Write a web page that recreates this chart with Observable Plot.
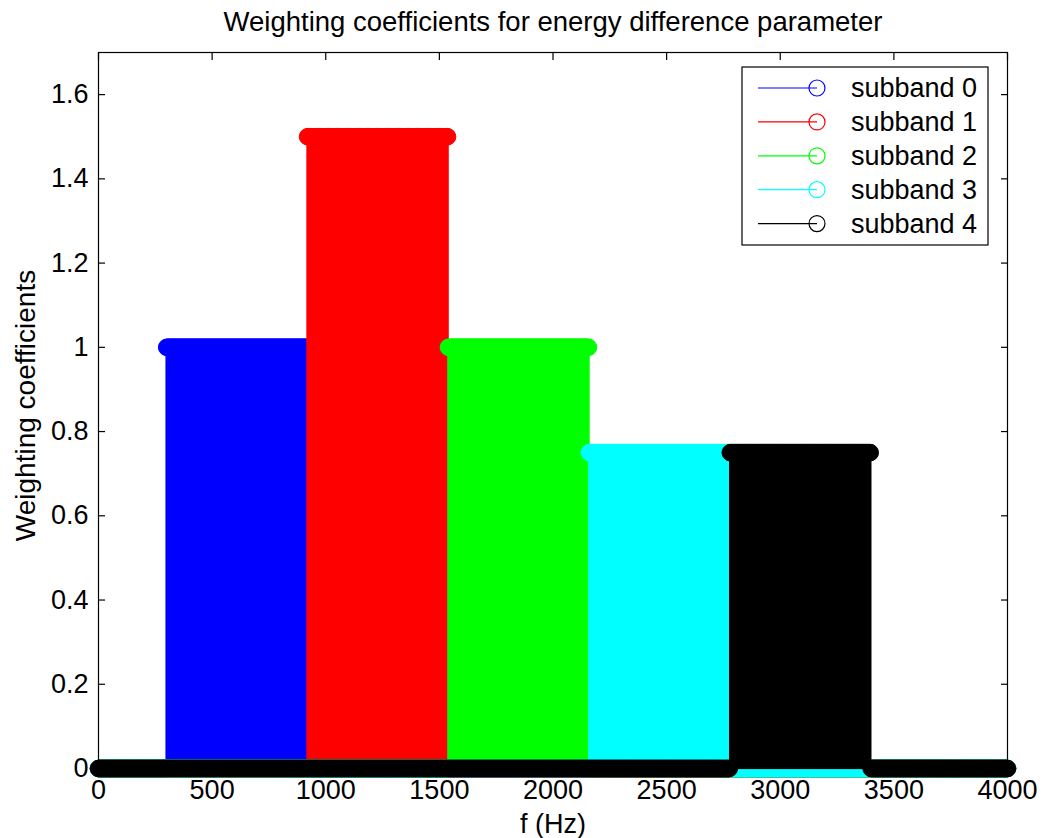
<!DOCTYPE html>
<html>
<head>
<meta charset="utf-8">
<script src="https://cdn.jsdelivr.net/npm/d3@7"></script>
<script src="https://cdn.jsdelivr.net/npm/@observablehq/plot@0.6"></script>
<style>
  html, body { margin: 0; padding: 0; background: #fff; }
  #chart { width: 1044px; height: 838px; }
</style>
</head>
<body>
<div id="chart"></div>
<script>
// ---- data ----
const seriesNames = ["subband 0", "subband 1", "subband 2", "subband 3", "subband 4"];
const seriesColors = ["#0000ff", "#ff0000", "#00ff00", "#00ffff", "#000000"];
const bandStart = [300, 920, 1540, 2160, 2780];   // Hz
const bandEnd   = [920, 1540, 2160, 2780, 3400];  // Hz
const weights   = [1, 1.5, 1, 0.75, 0.75];
const freqMax = 4000;
const freqStep = 4;   // stem spacing (Hz)
const xTicks = [0, 500, 1000, 1500, 2000, 2500, 3000, 3500, 4000];
const yTicks = [0, 0.2, 0.4, 0.6, 0.8, 1, 1.2, 1.4, 1.6];
const titleText = "Weighting coefficients for energy difference parameter";
const xLabel = "f (Hz)";
const yLabel = "Weighting coefficients";

// ---- build stem tables ----
const freqs = d3.range(0, freqMax + freqStep / 2, freqStep);
const stems = seriesNames.map((name, i) =>
  freqs.map(f => ({
    series: name,
    f,
    w: (f >= bandStart[i] && f < bandEnd[i]) ? weights[i] : 0
  }))
);

const font = "'Liberation Sans', Arial, Helvetica, sans-serif";
const marks = [];
stems.forEach((d, i) => {
  marks.push(Plot.ruleX(d.filter(p => p.w !== 0), {
    x: "f", y1: 0, y2: "w", stroke: seriesColors[i], strokeWidth: 2.5
  }));
  marks.push(Plot.dot(d, {
    x: "f", y: "w", r: 8.3, fill: seriesColors[i], stroke: seriesColors[i], strokeWidth: 1
  }));
});

const fmt = d => String(d);

const chart = Plot.plot({
  width: 1044,
  height: 838,
  marginLeft: 98,
  marginRight: 37,
  marginTop: 52,
  marginBottom: 70,
  style: { fontFamily: font, fontSize: "27px", color: "#000", background: "#fff", overflow: "visible" },
  x: { domain: [0, freqMax], ticks: xTicks },
  y: { domain: [0, 1.7], ticks: yTicks },
  marks: [
    ...marks,
    Plot.frame({ stroke: "#000", strokeWidth: 1.2 }),
    // inward ticks on all four sides
    Plot.axisX(xTicks, { anchor: "bottom", tickSize: -7, text: null, label: null, strokeWidth: 1.2 }),
    Plot.axisX(xTicks, { anchor: "top", tickSize: -7, text: null, label: null, strokeWidth: 1.2 }),
    Plot.axisY(yTicks, { anchor: "left", tickSize: -7, text: null, label: null, strokeWidth: 1.2 }),
    Plot.axisY(yTicks, { anchor: "right", tickSize: -7, text: null, label: null, strokeWidth: 1.2 }),
    // tick labels
    Plot.axisX(xTicks, { anchor: "bottom", tickSize: 0, tickPadding: 11, label: null, fontSize: 27, tickFormat: fmt }),
    Plot.axisY(yTicks, { anchor: "left", tickSize: 0, tickPadding: 10, label: null, fontSize: 27, tickFormat: fmt }),
    // titles
    Plot.text([titleText], { text: d => d, frameAnchor: "top", dy: -30, fontSize: 27.5, lineAnchor: "middle" }),
    Plot.text([xLabel], { text: d => d, frameAnchor: "bottom", dy: 56, fontSize: 27, lineAnchor: "middle" }),
    Plot.text([yLabel], { text: d => d, frameAnchor: "left", textAnchor: "middle", dx: -72, dy: -5, rotate: -90, fontSize: 28, lineAnchor: "middle" })
  ]
});

document.getElementById("chart").appendChild(chart);

// ---- legend ----
const svg = d3.select(chart);
const lg = svg.append("g").attr("class", "legend");
const lx = 742, ly = 67, lw = 246, lh = 178;
lg.append("rect").attr("x", lx).attr("y", ly).attr("width", lw).attr("height", lh)
  .attr("fill", "#fff").attr("stroke", "#000").attr("stroke-width", 1.2);
seriesNames.forEach((name, i) => {
  const cy = 88 + i * 33.9;
  lg.append("line").attr("x1", 758).attr("x2", 817).attr("y1", cy).attr("y2", cy)
    .attr("stroke", seriesColors[i]).attr("stroke-width", 1.2);
  lg.append("circle").attr("cx", 817).attr("cy", cy).attr("r", 8)
    .attr("fill", "none").attr("stroke", seriesColors[i]).attr("stroke-width", 1.2);
  lg.append("text").attr("x", 851).attr("y", cy).attr("dy", "0.35em")
    .attr("text-anchor", "start")
    .attr("font-size", 27).attr("font-family", font).attr("fill", "#000").text(name);
});
</script>
</body>
</html>
